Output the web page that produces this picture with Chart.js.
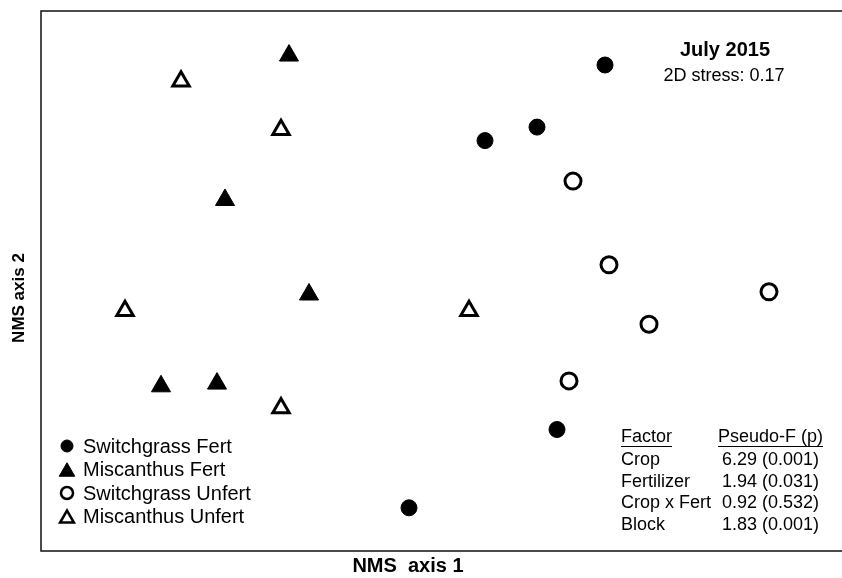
<!DOCTYPE html>
<html>
<head>
<meta charset="utf-8">
<script src="https://cdn.jsdelivr.net/npm/chart.js@4/dist/chart.umd.min.js"></script>
<style>
  html, body { margin: 0; padding: 0; background: #fff; }
  #wrap { width: 842px; height: 578px; position: relative; }
</style>
</head>
<body>
<div id="wrap"><canvas id="nmsChart"></canvas></div>
<script>
// NMS ordination scores (axis 1, axis 2)
const seriesNames = ['Switchgrass Fert', 'Miscanthus Fert', 'Switchgrass Unfert', 'Miscanthus Unfert'];

const switchgrassFertX = [0.41, 0.24, 0.11, 0.29, -0.08];
const switchgrassFertY = [0.80, 0.57, 0.52, -0.55, -0.84];

const miscanthusFertX = [-0.38, -0.54, -0.33, -0.70, -0.56];
const miscanthusFertY = [0.835, 0.30, -0.05, -0.39, -0.38];

const switchgrassUnfertX = [0.33, 0.42, 0.82, 0.52, 0.32];
const switchgrassUnfertY = [0.37, 0.06, -0.04, -0.16, -0.37];

const miscanthusUnfertX = [-0.65, -0.40, -0.79, 0.07, -0.40];
const miscanthusUnfertY = [0.74, 0.56, -0.11, -0.11, -0.47];

// PERMANOVA table
const factorNames = ['Crop', 'Fertilizer', 'Crop x Fert', 'Block'];
const pseudoF = ['6.29 (0.001)', '1.94 (0.031)', '0.92 (0.532)', '1.83 (0.001)'];

const FONT = '"Liberation Sans", Arial, Helvetica, sans-serif';

function toPoints(xs, ys) {
    return xs.map((x, i) => ({ x: x, y: ys[i] }));
}

const datasets = [
    { label: seriesNames[0], data: toPoints(switchgrassFertX, switchgrassFertY),
      pointStyle: 'circle', pointRadius: 8, backgroundColor: '#000', borderColor: '#000', borderWidth: 1 },
    { label: seriesNames[1], data: toPoints(miscanthusFertX, miscanthusFertY),
      pointStyle: 'triangle', pointRadius: 11, backgroundColor: '#000', borderColor: '#000', borderWidth: 1 },
    { label: seriesNames[2], data: toPoints(switchgrassUnfertX, switchgrassUnfertY),
      pointStyle: 'circle', pointRadius: 8, backgroundColor: '#fff', borderColor: '#000', borderWidth: 3 },
    { label: seriesNames[3], data: toPoints(miscanthusUnfertX, miscanthusUnfertY),
      pointStyle: 'triangle', pointRadius: 9.5, backgroundColor: '#fff', borderColor: '#000', borderWidth: 3 }
];

// legend symbols are a bit smaller than the plotted marks
const legendSymbols = [
    { pointStyle: 'circle', radius: 6, borderWidth: 1, fill: '#000' },
    { pointStyle: 'triangle', radius: 9, borderWidth: 1, fill: '#000' },
    { pointStyle: 'circle', radius: 6, borderWidth: 2.5, fill: '#fff' },
    { pointStyle: 'triangle', radius: 8, borderWidth: 2.5, fill: '#fff' }
];

const decorPlugin = {
    id: 'decor',
    afterDraw(chart) {
        const ctx = chart.ctx;
        const a = chart.chartArea;
        ctx.save();

        // frame (right side runs off the picture)
        ctx.strokeStyle = '#111';
        ctx.lineWidth = 1.5;
        ctx.beginPath();
        ctx.moveTo(chart.width, a.top);
        ctx.lineTo(a.left, a.top);
        ctx.lineTo(a.left, a.bottom);
        ctx.lineTo(chart.width, a.bottom);
        ctx.stroke();

        // axis titles
        ctx.fillStyle = '#000';
        ctx.textAlign = 'center';
        ctx.textBaseline = 'middle';
        ctx.font = 'bold 20px ' + FONT;
        ctx.fillText('NMS  axis 1', 408, 566);
        ctx.font = 'bold 17px ' + FONT;
        ctx.save();
        ctx.translate(19, 298);
        ctx.rotate(-Math.PI / 2);
        ctx.fillText('NMS axis 2', 0, 0);
        ctx.restore();

        // title block
        ctx.font = 'bold 20px ' + FONT;
        ctx.fillText('July 2015', 725, 50);
        ctx.font = '18px ' + FONT;
        ctx.fillText('2D stress: 0.17', 724, 76);

        // legend
        ctx.font = '20px ' + FONT;
        ctx.textAlign = 'left';
        seriesNames.forEach((name, i) => {
            const y = 446 + i * 23.5;
            const s = legendSymbols[i];
            ctx.fillStyle = s.fill;
            ctx.strokeStyle = '#000';
            ctx.lineWidth = s.borderWidth;
            const yOff = s.pointStyle === 'triangle' ? s.radius / 4 : 0;
            Chart.helpers.drawPoint(ctx, { pointStyle: s.pointStyle, radius: s.radius, borderWidth: s.borderWidth, rotation: 0 }, 67, y + yOff);
            ctx.fillStyle = '#000';
            ctx.fillText(name, 83, y + 1);
        });

        // factor table
        ctx.font = '18px ' + FONT;
        ctx.textAlign = 'left';
        ctx.fillText('Factor', 621, 437);
        ctx.textAlign = 'right';
        ctx.fillText('Pseudo-F (p)', 823, 437);
        ctx.strokeStyle = '#000';
        ctx.lineWidth = 1;
        ctx.beginPath();
        ctx.moveTo(621, 446.5); ctx.lineTo(672, 446.5);
        ctx.moveTo(718, 446.5); ctx.lineTo(823, 446.5);
        ctx.stroke();
        factorNames.forEach((f, i) => {
            const y = 460 + i * 21.7;
            ctx.textAlign = 'left';
            ctx.fillText(f, 621, y);
            ctx.textAlign = 'right';
            ctx.fillText(pseudoF[i], 819, y);
        });

        ctx.restore();
    }
};

new Chart(document.getElementById('nmsChart'), {
    type: 'scatter',
    data: { datasets: datasets },
    options: {
        responsive: true,
        maintainAspectRatio: false,
        animation: false,
        layout: { autoPadding: false, padding: { left: 41, right: 1, top: 11, bottom: 27 } },
        plugins: { legend: { display: false }, tooltip: { enabled: false } },
        scales: {
            x: { type: 'linear', min: -1, max: 1, display: false },
            y: { type: 'linear', min: -1, max: 1, display: false }
        }
    },
    plugins: [decorPlugin]
});
</script>
</body>
</html>
